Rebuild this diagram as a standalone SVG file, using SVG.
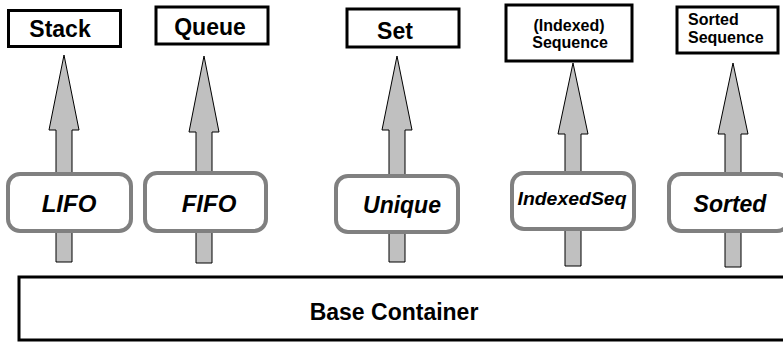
<svg xmlns="http://www.w3.org/2000/svg" width="783" height="342" viewBox="0 0 783 342">
  <style>
    .top { fill: #fff; stroke: #000; stroke-width: 3; }
    .mid { fill: #fff; stroke: #808080; stroke-width: 4; }
    .base { fill: #fff; stroke: #000; stroke-width: 3; }
    .arrow { fill: #c0c0c0; stroke: #000; stroke-width: 1; }
    .t { font-family: "Liberation Sans", Arial, sans-serif; font-weight: bold; fill: #000; text-anchor: middle; }
    .l { font-family: "Liberation Sans", Arial, sans-serif; font-weight: bold; fill: #000; }
    .i { font-family: "Liberation Sans", Arial, sans-serif; font-weight: bold; font-style: italic; fill: #000; text-anchor: middle; }
  </style>
  <rect width="783" height="342" fill="#fff"/>

  <!-- upward arrows from the base through each adaptor to its container -->
  <g id="connectors">
    <path class="arrow" d="M56,262 V130 H49 L64,55 L79,130 H72 V262 Z"/>
    <path class="arrow" d="M196,263 V132 H189 L204,56 L219,132 H212 V263 Z"/>
    <path class="arrow" d="M389,262 V130 H382 L397,56 L412,130 H405 V262 Z"/>
    <path class="arrow" d="M565,266 V134 H558 L573,63 L588,134 H581 V266 Z"/>
    <path class="arrow" d="M725,267 V134 H718 L733,63 L748,134 H741 V267 Z"/>
  </g>

  <g id="base">
    <rect class="base" x="19" y="277" width="775" height="63"/>
    <text class="t" x="394" y="320" font-size="23">Base Container</text>
  </g>

  <g id="stack">
    <rect class="top" x="8.5" y="10.5" width="112" height="36"/>
    <text class="t" x="60" y="37" font-size="23">Stack</text>
  </g>
  <g id="queue">
    <rect class="top" x="156" y="7" width="112" height="37"/>
    <text class="t" x="210" y="35" font-size="23">Queue</text>
  </g>
  <g id="set">
    <rect class="top" x="347" y="9" width="112" height="38"/>
    <text class="t" x="395" y="39" font-size="23">Set</text>
  </g>
  <g id="indexed-sequence">
    <rect class="top" x="506" y="5" width="126" height="56"/>
    <text class="t" x="569" y="31" font-size="16">(Indexed)</text>
    <text class="t" x="570" y="48" font-size="16">Sequence</text>
  </g>
  <g id="sorted-sequence">
    <rect class="top" x="677" y="7" width="101" height="46"/>
    <text class="l" x="688" y="25" font-size="16">Sorted</text>
    <text class="l" x="688" y="43" font-size="16">Sequence</text>
  </g>

  <g id="lifo">
    <rect class="mid" x="8" y="174" width="123" height="57" rx="12"/>
    <text class="i" x="69" y="212" font-size="24">LIFO</text>
  </g>
  <g id="fifo">
    <rect class="mid" x="145" y="173" width="121" height="58" rx="12"/>
    <text class="i" x="209" y="212" font-size="24">FIFO</text>
  </g>
  <g id="unique">
    <rect class="mid" x="336" y="176" width="122" height="56" rx="12"/>
    <text class="i" x="402" y="213" font-size="23">Unique</text>
  </g>
  <g id="indexedseq">
    <rect class="mid" x="512" y="173" width="122" height="56" rx="12"/>
    <text class="i" x="572" y="205" font-size="18" textLength="109" lengthAdjust="spacingAndGlyphs">IndexedSeq</text>
  </g>
  <g id="sorted">
    <rect class="mid" x="669" y="174" width="120" height="57" rx="12"/>
    <text class="i" x="730" y="212" font-size="23">Sorted</text>
  </g>
</svg>
